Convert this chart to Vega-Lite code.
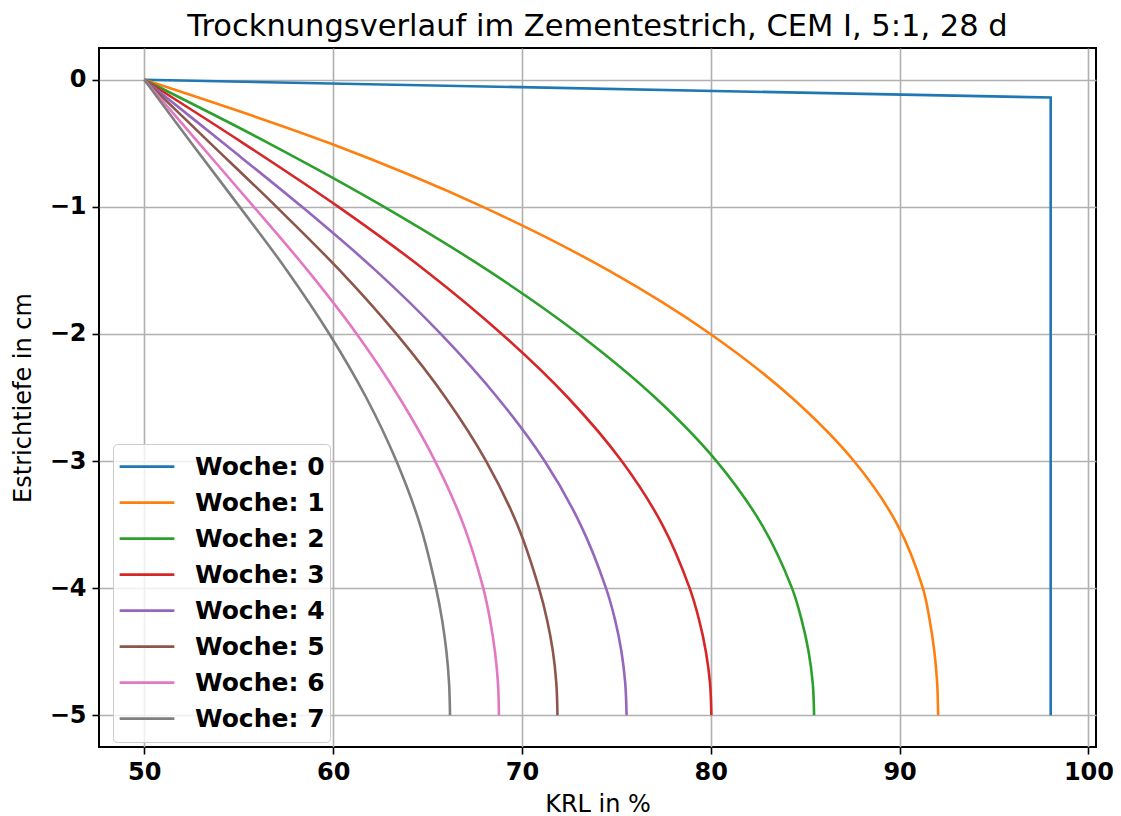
{
  "$schema": "https://vega.github.io/schema/vega-lite/v6.json",
  "width": 997,
  "height": 699,
  "autosize": "none",
  "padding": {"left": 99, "top": 48, "right": 25, "bottom": 69},
  "background": "white",
  "title": {"text": "Trocknungsverlauf im Zementestrich, CEM I, 5:1, 28 d", "font": "DejaVu Sans", "fontSize": 30.5, "fontWeight": "normal", "color": "black", "anchor": "middle", "offset": 6},
  "config": {
    "view": {"stroke": "black", "strokeWidth": 2},
    "axis": {
      "labelFont": "DejaVu Sans", "labelFontWeight": "bold", "labelFontSize": 24, "labelColor": "black",
      "tickColor": "black", "tickSize": 7, "tickWidth": 1.6, "domain": false,
      "gridColor": "#b0b0b0", "gridWidth": 1.6, "gridOpacity": 1,
      "titleFont": "DejaVu Sans", "titleFontSize": 24, "titleFontWeight": "normal", "titleColor": "black",
      "labelPadding": 6
    },
    "legend": {
      "orient": "none", "legendX": 14, "legendY": 396, "padding": 5,
      "fillColor": "rgba(255,255,255,0.8)", "strokeColor": "#cccccc", "cornerRadius": 4,
      "symbolType": "stroke", "symbolSize": 2992, "symbolStrokeWidth": 2.6,
      "labelFont": "DejaVu Sans", "labelFontSize": 25, "labelFontWeight": "bold", "labelColor": "black",
      "labelOffset": 19, "clipHeight": 35.3, "rowPadding": 0, "labelLimit": 400
    }
  },
  "data": {"values": [
    {"w": "Woche: 0", "t": 0, "krl": 50},
    {"w": "Woche: 0", "t": -0.14, "krl": 98},
    {"w": "Woche: 0", "t": -5, "krl": 98},
    {"w": "Woche: 1", "t": 0, "krl": 50},
    {"w": "Woche: 1", "t": -0.5, "krl": 59.83},
    {"w": "Woche: 1", "t": -1, "krl": 67.93},
    {"w": "Woche: 1", "t": -1.5, "krl": 74.58},
    {"w": "Woche: 1", "t": -2, "krl": 79.98},
    {"w": "Woche: 1", "t": -2.5, "krl": 84.28},
    {"w": "Woche: 1", "t": -3, "krl": 87.58},
    {"w": "Woche: 1", "t": -3.5, "krl": 89.88},
    {"w": "Woche: 1", "t": -4, "krl": 91.23},
    {"w": "Woche: 1", "t": -4.25, "krl": 91.59},
    {"w": "Woche: 1", "t": -4.5, "krl": 91.84},
    {"w": "Woche: 1", "t": -4.75, "krl": 91.99},
    {"w": "Woche: 1", "t": -5, "krl": 92.04},
    {"w": "Woche: 2", "t": 0, "krl": 50},
    {"w": "Woche: 2", "t": -0.5, "krl": 56.6},
    {"w": "Woche: 2", "t": -1, "krl": 62.7},
    {"w": "Woche: 2", "t": -1.5, "krl": 68.2},
    {"w": "Woche: 2", "t": -2, "krl": 73.0},
    {"w": "Woche: 2", "t": -2.5, "krl": 77.05},
    {"w": "Woche: 2", "t": -3, "krl": 80.3},
    {"w": "Woche: 2", "t": -3.5, "krl": 82.7},
    {"w": "Woche: 2", "t": -4, "krl": 84.3},
    {"w": "Woche: 2", "t": -4.25, "krl": 84.81},
    {"w": "Woche: 2", "t": -4.5, "krl": 85.18},
    {"w": "Woche: 2", "t": -4.75, "krl": 85.4},
    {"w": "Woche: 2", "t": -5, "krl": 85.47},
    {"w": "Woche: 3", "t": 0, "krl": 50},
    {"w": "Woche: 3", "t": -0.5, "krl": 55.25},
    {"w": "Woche: 3", "t": -1, "krl": 60.28},
    {"w": "Woche: 3", "t": -1.5, "krl": 64.88},
    {"w": "Woche: 3", "t": -2, "krl": 68.93},
    {"w": "Woche: 3", "t": -2.5, "krl": 72.43},
    {"w": "Woche: 3", "t": -3, "krl": 75.28},
    {"w": "Woche: 3", "t": -3.5, "krl": 77.43},
    {"w": "Woche: 3", "t": -4, "krl": 78.88},
    {"w": "Woche: 3", "t": -4.25, "krl": 79.38},
    {"w": "Woche: 3", "t": -4.5, "krl": 79.74},
    {"w": "Woche: 3", "t": -4.75, "krl": 79.96},
    {"w": "Woche: 3", "t": -5, "krl": 80.03},
    {"w": "Woche: 4", "t": 0, "krl": 50},
    {"w": "Woche: 4", "t": -0.5, "krl": 54.2},
    {"w": "Woche: 4", "t": -1, "krl": 58.35},
    {"w": "Woche: 4", "t": -1.5, "krl": 62.25},
    {"w": "Woche: 4", "t": -2, "krl": 65.7},
    {"w": "Woche: 4", "t": -2.5, "krl": 68.7},
    {"w": "Woche: 4", "t": -3, "krl": 71.2},
    {"w": "Woche: 4", "t": -3.5, "krl": 73.1},
    {"w": "Woche: 4", "t": -4, "krl": 74.45},
    {"w": "Woche: 4", "t": -4.25, "krl": 74.93},
    {"w": "Woche: 4", "t": -4.5, "krl": 75.27},
    {"w": "Woche: 4", "t": -4.75, "krl": 75.47},
    {"w": "Woche: 4", "t": -5, "krl": 75.54},
    {"w": "Woche: 5", "t": 0, "krl": 50},
    {"w": "Woche: 5", "t": -0.5, "krl": 53.5},
    {"w": "Woche: 5", "t": -1, "krl": 57.0},
    {"w": "Woche: 5", "t": -1.5, "krl": 60.35},
    {"w": "Woche: 5", "t": -2, "krl": 63.35},
    {"w": "Woche: 5", "t": -2.5, "krl": 65.95},
    {"w": "Woche: 5", "t": -3, "krl": 68.1},
    {"w": "Woche: 5", "t": -3.5, "krl": 69.75},
    {"w": "Woche: 5", "t": -4, "krl": 70.9},
    {"w": "Woche: 5", "t": -4.25, "krl": 71.33},
    {"w": "Woche: 5", "t": -4.5, "krl": 71.64},
    {"w": "Woche: 5", "t": -4.75, "krl": 71.82},
    {"w": "Woche: 5", "t": -5, "krl": 71.88},
    {"w": "Woche: 6", "t": 0, "krl": 50},
    {"w": "Woche: 6", "t": -0.5, "krl": 52.9},
    {"w": "Woche: 6", "t": -1, "krl": 55.8},
    {"w": "Woche: 6", "t": -1.5, "krl": 58.65},
    {"w": "Woche: 6", "t": -2, "krl": 61.25},
    {"w": "Woche: 6", "t": -2.5, "krl": 63.5},
    {"w": "Woche: 6", "t": -3, "krl": 65.4},
    {"w": "Woche: 6", "t": -3.5, "krl": 66.9},
    {"w": "Woche: 6", "t": -4, "krl": 67.95},
    {"w": "Woche: 6", "t": -4.25, "krl": 68.31},
    {"w": "Woche: 6", "t": -4.5, "krl": 68.57},
    {"w": "Woche: 6", "t": -4.75, "krl": 68.73},
    {"w": "Woche: 6", "t": -5, "krl": 68.78},
    {"w": "Woche: 7", "t": 0, "krl": 50},
    {"w": "Woche: 7", "t": -0.5, "krl": 52.5},
    {"w": "Woche: 7", "t": -1, "krl": 55.05},
    {"w": "Woche: 7", "t": -1.5, "krl": 57.55},
    {"w": "Woche: 7", "t": -2, "krl": 59.8},
    {"w": "Woche: 7", "t": -2.5, "krl": 61.75},
    {"w": "Woche: 7", "t": -3, "krl": 63.35},
    {"w": "Woche: 7", "t": -3.5, "krl": 64.6},
    {"w": "Woche: 7", "t": -4, "krl": 65.45},
    {"w": "Woche: 7", "t": -4.25, "krl": 65.77},
    {"w": "Woche: 7", "t": -4.5, "krl": 66.0},
    {"w": "Woche: 7", "t": -4.75, "krl": 66.14},
    {"w": "Woche: 7", "t": -5, "krl": 66.19}
  ]},
  "encoding": {
    "x": {"field": "krl", "type": "quantitative", "scale": {"domain": [47.6, 100.4], "nice": false, "zero": false},
          "axis": {"values": [50, 60, 70, 80, 90, 100], "title": "KRL in %", "titlePadding": 8}},
    "y": {"field": "t", "type": "quantitative", "scale": {"domain": [-5.25, 0.25], "nice": false, "zero": false},
          "axis": {"values": [-5, -4, -3, -2, -1, 0], "format": "d", "title": "Estrichtiefe in cm", "titlePadding": 14}},
    "color": {"field": "w", "type": "nominal",
              "scale": {"domain": ["Woche: 0", "Woche: 1", "Woche: 2", "Woche: 3", "Woche: 4", "Woche: 5", "Woche: 6", "Woche: 7"],
                        "range": ["#1f77b4", "#ff7f0e", "#2ca02c", "#d62728", "#9467bd", "#8c564b", "#e377c2", "#7f7f7f"]},
              "legend": {"title": null}},
    "order": {"field": "t", "type": "quantitative", "sort": "descending"}
  },
  "layer": [
    {"transform": [{"filter": "datum.w == 'Woche: 0'"}], "mark": {"type": "line", "strokeWidth": 2.6, "interpolate": "linear"}},
    {"transform": [{"filter": "datum.w != 'Woche: 0'"}], "mark": {"type": "line", "strokeWidth": 2.6, "interpolate": "catmull-rom"}}
  ]
}
